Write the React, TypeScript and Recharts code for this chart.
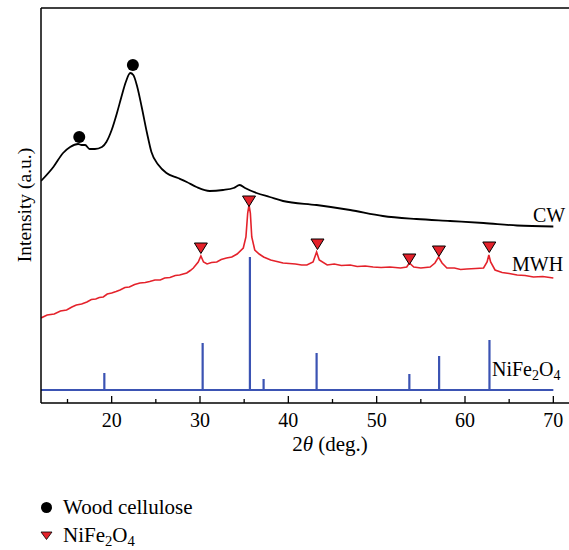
import { ComposedChart, Line, Scatter, XAxis, YAxis, ReferenceLine } from "recharts";

const FONT = '"Liberation Serif", "Times New Roman", serif';
const RED = "#e4222b";
const BLUE = "#3b53b3";

// CW (wood) pattern
const cwTheta = [
  12, 13.4, 14.5, 15.3, 16.2, 16.6, 17.0, 17.5, 18.1, 18.9, 19.4, 20.0, 20.6, 21.1, 21.6,
  22.1, 22.45, 22.9, 23.4, 24.0, 24.5, 25.3, 26.2, 27.5, 28.5, 29.6, 31.1, 32.6, 33.8,
  34.5, 35.1, 36.4, 37.9, 39.4, 43.2, 47.0, 50.7, 54.5, 58.3, 62.1, 65.9, 70.0,
];
const cwIntensity = [
  222, 236, 250, 256, 259, 258, 258, 254, 254, 256, 261, 273, 290, 306, 321,
  330, 328, 316, 296, 270, 251, 238, 230, 225, 221, 216, 212, 213, 215,
  218, 215, 210, 206, 202, 198, 193, 187, 184, 182, 180, 177.5, 176.5,
];

// MWH pattern
const mwhTheta = [
  12, 12.7, 13.5, 14.2, 14.9, 15.5, 16.0, 16.6, 17.2, 17.7, 18.2, 18.6, 19.05, 19.5, 20.0,
  20.5, 20.95, 21.5, 22.0, 22.6, 23.2, 23.8, 24.3, 24.9, 25.5, 26.0, 26.6, 27.2,
  27.7, 28.1, 28.5, 28.9, 29.25, 29.8, 30.1, 30.4, 30.8, 31.3, 31.9, 32.4, 33.0, 33.6,
  34.2, 34.9, 35.2, 35.4, 35.55, 35.7, 35.86, 36.2, 36.7, 37.2, 38.0, 38.7, 39.4, 40.1,
  40.8, 41.5, 42.1, 42.8, 43.2, 43.5, 44.4, 45.2, 46.0, 47.0, 47.8, 48.7, 49.6, 50.5,
  51.5, 52.7, 53.4, 53.7, 54.2, 55.0, 56.05, 56.6, 57.0, 57.4, 57.95, 58.8, 59.5, 60.2,
  61.2, 62.1, 62.5, 62.7, 62.9, 63.4, 64.2, 65.0, 65.9, 66.8, 67.75, 68.8, 70.0,
];
const mwhIntensity = [
  85, 88, 89, 92, 93, 96, 98, 99, 101, 103.5, 104, 105.5, 106, 109, 110,
  111.5, 113, 115.5, 116, 118.5, 120, 120.5, 121.5, 123, 123, 125, 125.5, 127.5,
  128, 129, 130, 132.5, 135, 141, 147, 141, 139, 140.5, 141, 143.5, 145, 146,
  149, 155, 166, 190, 198, 190, 166, 153, 149, 146, 143, 141.5, 140, 139.5,
  139, 138, 138, 141, 151, 143, 138, 139, 137.5, 138, 136.5, 137, 136, 135.5,
  136, 135, 136, 140, 136, 135, 136, 140, 146, 140, 135, 135, 133.5, 134,
  134.5, 135, 141, 148, 141, 133, 130.5, 129.5, 128, 127.5, 126, 126.5, 125,
];

// NiFe2O4 reference sticks
const stickTheta = [19.17, 30.3, 35.65, 37.2, 43.2, 53.7, 57.07, 62.77];
const stickIntensity = [30, 60, 146, 24, 50, 29, 47, 63];
const stickBase = 13;

// markers
const celluloseTheta = [16.33, 22.4];
const celluloseY = [266, 338];
const ferriteTheta = [30.1, 35.55, 43.3, 53.7, 57.05, 62.75];
const ferriteY = [155, 202, 159, 144, 152, 156];

const xTicks = [15, 20, 25, 30, 35, 40, 45, 50, 55, 60, 65, 70];

const cwData = cwTheta.map((x, i) => ({ x, y: cwIntensity[i] }));
const mwhData = mwhTheta.map((x, i) => ({ x, y: mwhIntensity[i] }));
const stickData = [
  { x: 12, y: stickBase },
  ...stickTheta.flatMap((x, i) => [
    { x, y: stickBase },
    { x, y: stickIntensity[i] },
    { x, y: stickBase },
  ]),
  { x: 70, y: stickBase },
];
const celluloseData = celluloseTheta.map((x, i) => ({ x, y: celluloseY[i] }));
const ferriteData = ferriteTheta.map((x, i) => ({ x, y: ferriteY[i] }));

function XTick(props: any) {
  const { x, y, payload } = props;
  const major = payload.value % 10 === 0;
  return (
    <g>
      <line x1={x} x2={x} y1={y} y2={y - (major ? 7 : 4)} stroke="#000" strokeWidth={1.3} />
      {major && (
        <text x={x} y={y + 24} textAnchor="middle" fontFamily={FONT} fontSize={20} fill="#000">
          {payload.value}
        </text>
      )}
    </g>
  );
}

const Dot = (p: any) => <circle cx={p.cx} cy={p.cy} r={6} fill="#000" />;

const Tri = (p: any) => (
  <polygon
    points={`${p.cx - 6.5},${p.cy - 5} ${p.cx + 6.5},${p.cy - 5} ${p.cx},${p.cy + 5.5}`}
    fill={RED}
    stroke="#000"
    strokeWidth={1}
  />
);

function Formula({ x, y, size = 20 }: { x: number; y: number; size?: number }) {
  return (
    <text x={x} y={y} fontFamily={FONT} fontSize={size} fill="#000">
      NiFe
      <tspan fontSize={size * 0.7} dy={4}>2</tspan>
      <tspan dy={-4}>O</tspan>
      <tspan fontSize={size * 0.7} dy={4}>4</tspan>
    </text>
  );
}

export default function App() {
  return (
    <div style={{ position: "absolute", left: 0, top: 0, width: 569, height: 550, background: "#fff", overflow: "hidden" }}>
      <ComposedChart width={575} height={470} margin={{ top: 8, right: 4, left: 0, bottom: 0 }}>
        <XAxis
          dataKey="x"
          type="number"
          domain={[12, 72]}
          ticks={xTicks}
          tick={<XTick />}
          tickLine={false}
          tickSize={0}
          tickMargin={0}
          height={67}
          axisLine={{ stroke: "#000", strokeWidth: 1.5 }}
          allowDataOverflow
        />
        <YAxis
          type="number"
          domain={[0, 395]}
          width={41}
          tick={false}
          tickLine={false}
          axisLine={{ stroke: "#000", strokeWidth: 1.5 }}
          allowDataOverflow
        />
        <ReferenceLine y={395} stroke="#000" strokeWidth={1.5} />
        <Line data={stickData} dataKey="y" type="linear" stroke={BLUE} strokeWidth={2.2} dot={false} isAnimationActive={false} />
        <Line data={cwData} dataKey="y" type="monotone" stroke="#000" strokeWidth={1.8} dot={false} isAnimationActive={false} />
        <Line data={mwhData} dataKey="y" type="linear" stroke={RED} strokeWidth={1.6} dot={false} isAnimationActive={false} />
        <Scatter data={celluloseData} dataKey="y" shape={Dot} isAnimationActive={false} />
        <Scatter data={ferriteData} dataKey="y" shape={Tri} isAnimationActive={false} />
      </ComposedChart>
      <svg width={569} height={550} style={{ position: "absolute", left: 0, top: 0, pointerEvents: "none" }}>
        <text x={533} y={222} fontFamily={FONT} fontSize={20} fill="#000">CW</text>
        <text x={512} y={271} fontFamily={FONT} fontSize={20} fill="#000">MWH</text>
        <Formula x={492} y={376} />
        <text transform="translate(31,205) rotate(-90)" textAnchor="middle" fontFamily={FONT} fontSize={19.5} fill="#000">
          Intensity (a.u.)
        </text>
        <text x={330} y={451} textAnchor="middle" fontFamily={FONT} fontSize={21} fill="#000">
          2<tspan fontStyle="italic">θ</tspan> (deg.)
        </text>
        <circle cx={46.5} cy={507.5} r={5.5} fill="#000" />
        <text x={63} y={514} fontFamily={FONT} fontSize={21} fill="#000">Wood cellulose</text>
        <polygon points="41,532 52,532 46.5,539.5" fill={RED} stroke="#000" strokeWidth={0.8} />
        <Formula x={63} y={542} size={21} />
      </svg>
    </div>
  );
}
